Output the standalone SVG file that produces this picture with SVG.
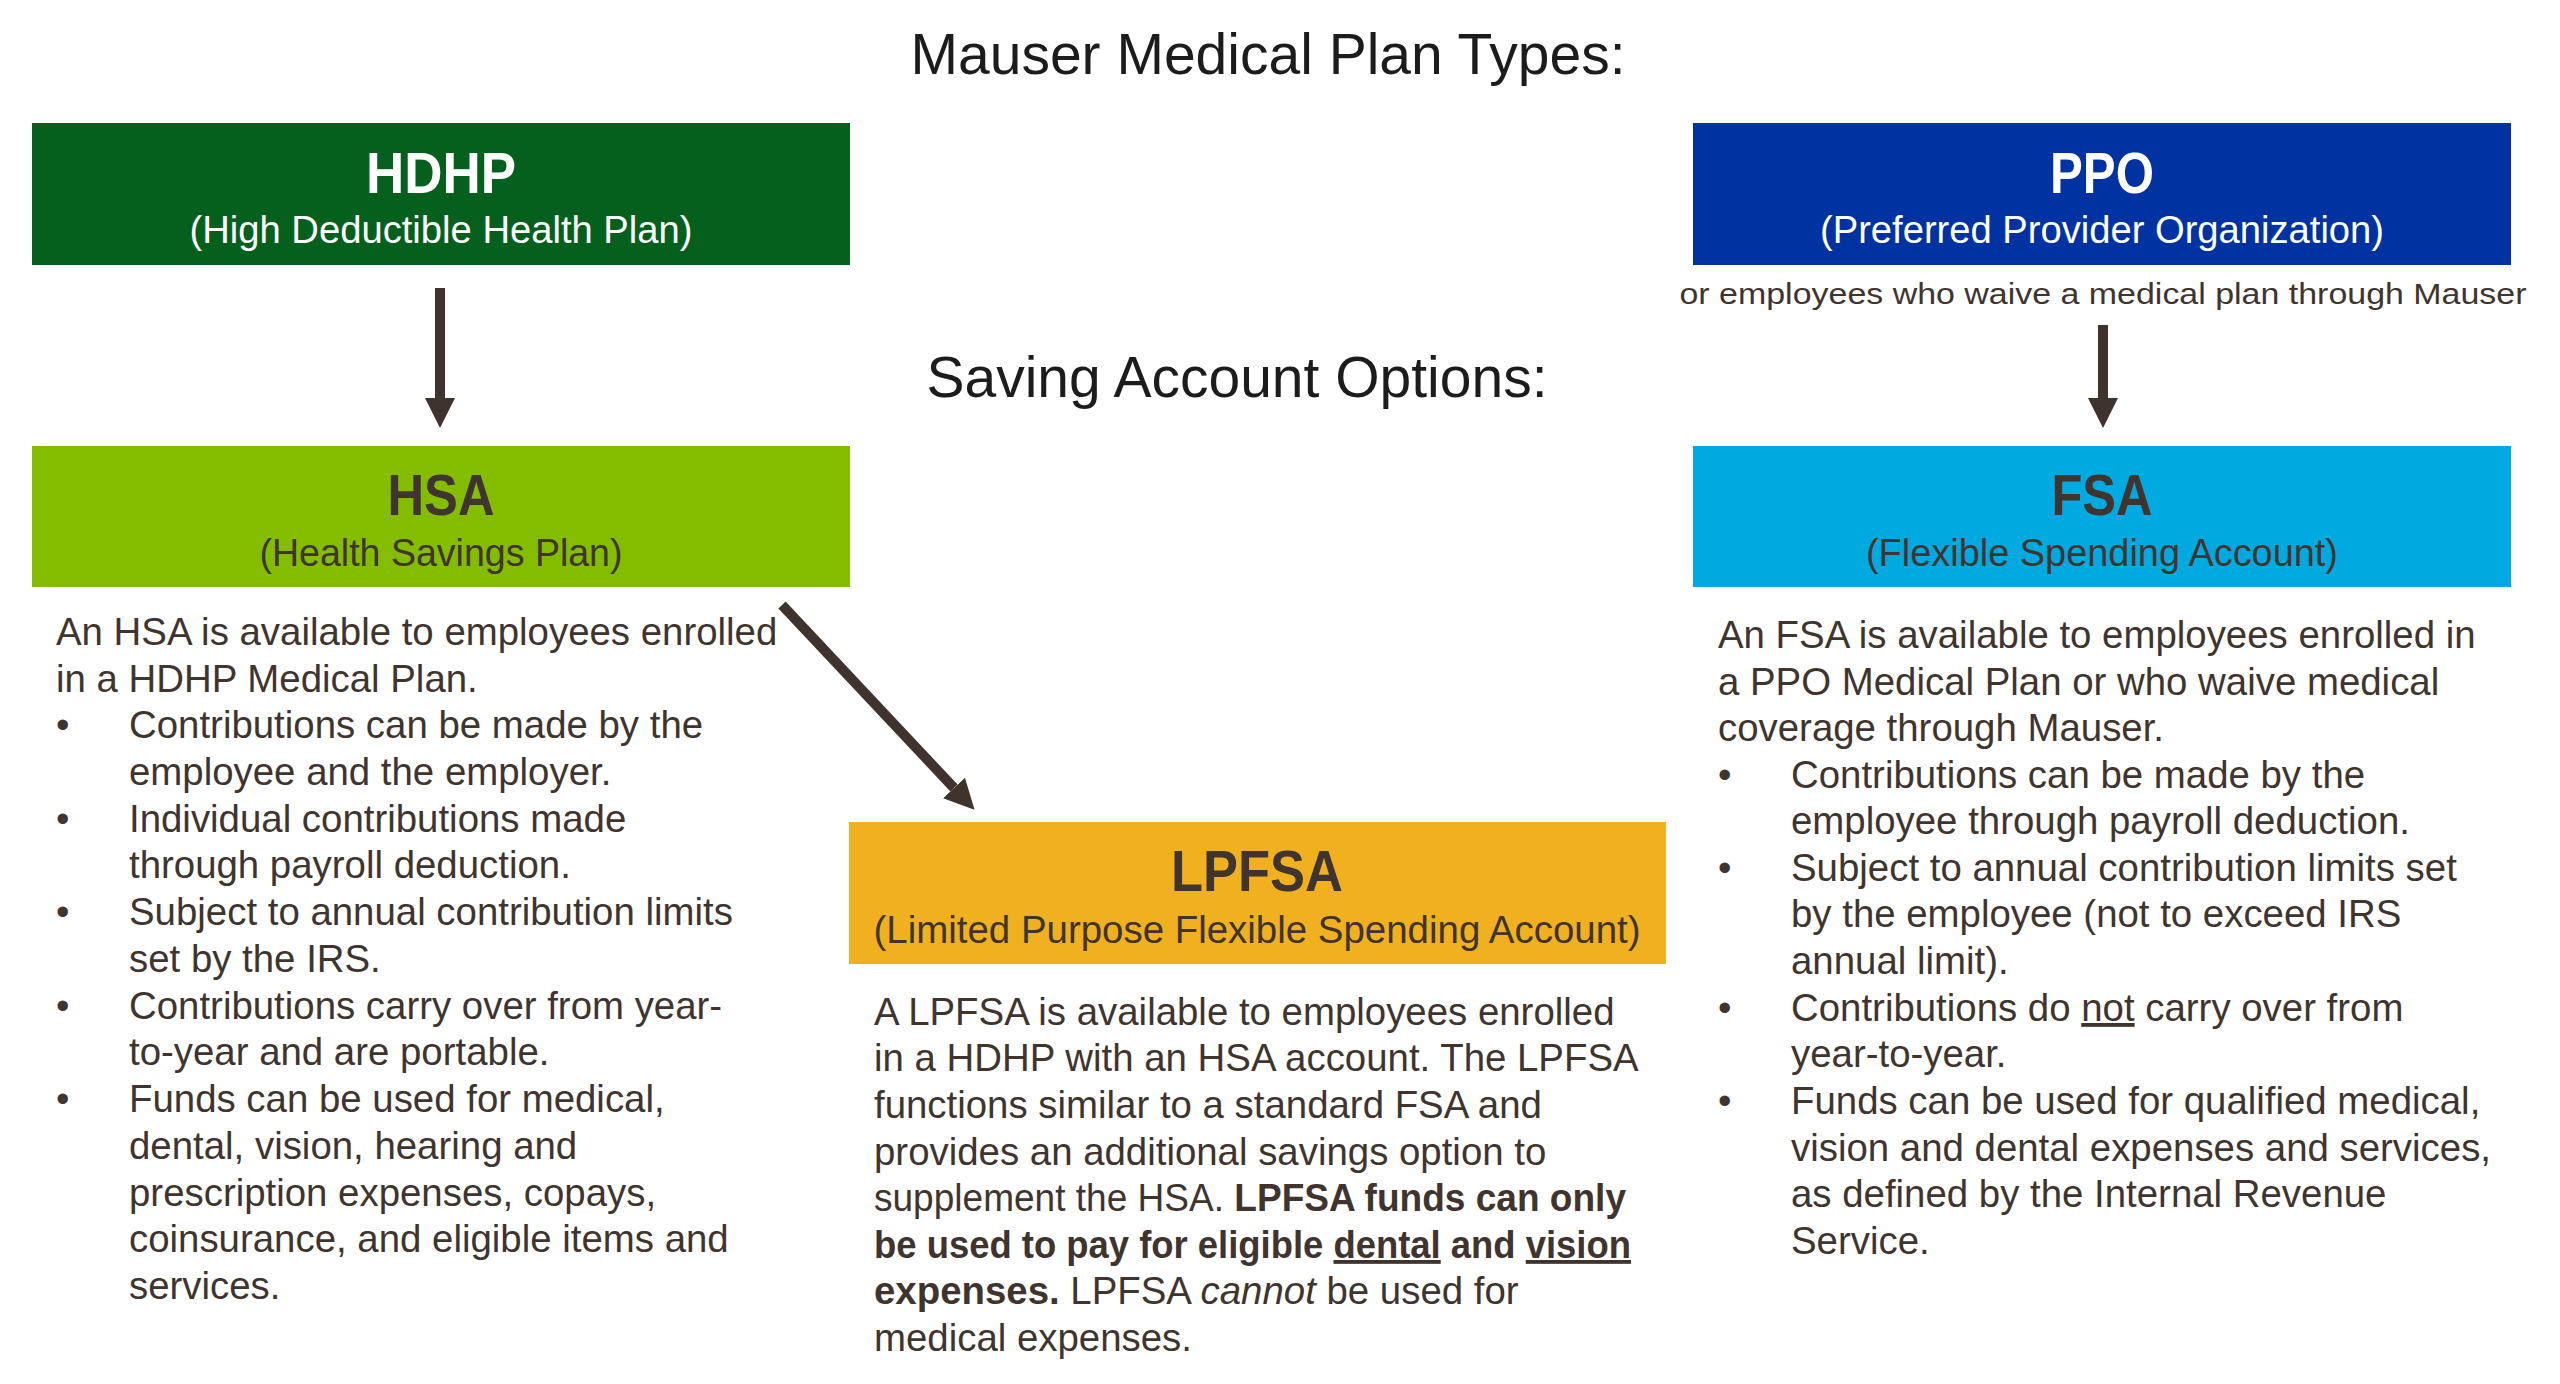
<svg xmlns="http://www.w3.org/2000/svg" width="2560" height="1384" viewBox="0 0 2560 1384">
<style>
.t{font-family:"Liberation Sans",Arial,sans-serif;}
.title{font-size:57px;fill:#1c1c1c;}
.hd{font-size:58px;font-weight:bold;}
.sub{font-size:38px;}
.body{font-size:38.4px;fill:#40342f;}
.w{fill:#ffffff;}
.d{fill:#40342f;}
.b{font-weight:bold;}
.u{text-decoration:underline;}
.conn{stroke:#3e332d;stroke-width:10;fill:none;}
</style>
<defs>
<marker id="ah" markerUnits="userSpaceOnUse" markerWidth="32" markerHeight="32" refX="0" refY="15" orient="auto">
<path d="M0,0 L30,15 L0,30 z" fill="#3e332d"/>
</marker>
</defs>
<rect width="2560" height="1384" fill="#ffffff"/>

<text class="t title" x="1268" y="74" text-anchor="middle">Mauser Medical Plan Types:</text>
<text class="t title" x="1237" y="397" text-anchor="middle">Saving Account Options:</text>

<g id="node-hdhp">
<rect x="32" y="123" width="818" height="142" fill="#05601e"/>
<text class="t hd w" x="441" y="193" text-anchor="middle" textLength="150" lengthAdjust="spacingAndGlyphs">HDHP</text>
<text class="t sub w" x="441" y="243" text-anchor="middle" textLength="503" lengthAdjust="spacingAndGlyphs">(High Deductible Health Plan)</text>
</g>

<g id="node-ppo">
<rect x="1693" y="123" width="818" height="142" fill="#0033a1"/>
<text class="t hd w" x="2102" y="193" text-anchor="middle" textLength="104" lengthAdjust="spacingAndGlyphs">PPO</text>
<text class="t sub w" x="2102" y="243" text-anchor="middle" textLength="564" lengthAdjust="spacingAndGlyphs">(Preferred Provider Organization)</text>
<text class="t d" x="2103" y="304" font-size="29" text-anchor="middle" textLength="847" lengthAdjust="spacingAndGlyphs">or employees who waive a medical plan through Mauser</text>
</g>

<g id="node-hsa">
<rect x="32" y="446" width="818" height="141" fill="#84bd00"/>
<text class="t hd d" x="441" y="515" text-anchor="middle" textLength="107" lengthAdjust="spacingAndGlyphs">HSA</text>
<text class="t sub d" x="441" y="566" text-anchor="middle" textLength="363" lengthAdjust="spacingAndGlyphs">(Health Savings Plan)</text>
<g class="t body">
<text x="56" y="645">An HSA is available to employees enrolled</text>
<text x="56" y="692">in a HDHP Medical Plan.</text>
<text x="56" y="738">•</text><text x="129" y="738">Contributions can be made by the</text>
<text x="129" y="785">employee and the employer.</text>
<text x="56" y="832">•</text><text x="129" y="832">Individual contributions made</text>
<text x="129" y="878">through payroll deduction.</text>
<text x="56" y="925">•</text><text x="129" y="925">Subject to annual contribution limits</text>
<text x="129" y="972">set by the IRS.</text>
<text x="56" y="1019">•</text><text x="129" y="1019">Contributions carry over from year-</text>
<text x="129" y="1065">to-year and are portable.</text>
<text x="56" y="1112">•</text><text x="129" y="1112">Funds can be used for medical,</text>
<text x="129" y="1159">dental, vision, hearing and</text>
<text x="129" y="1206">prescription expenses, copays,</text>
<text x="129" y="1252">coinsurance, and eligible items and</text>
<text x="129" y="1299">services.</text>
</g>
</g>

<g id="node-fsa">
<rect x="1693" y="446" width="818" height="141" fill="#00a9e0"/>
<text class="t hd d" x="2102" y="515" text-anchor="middle" textLength="101" lengthAdjust="spacingAndGlyphs">FSA</text>
<text class="t sub d" x="2102" y="566" text-anchor="middle" textLength="472" lengthAdjust="spacingAndGlyphs">(Flexible Spending Account)</text>
<g class="t body">
<text x="1718" y="648">An FSA is available to employees enrolled in</text>
<text x="1718" y="695">a PPO Medical Plan or who waive medical</text>
<text x="1718" y="741">coverage through Mauser.</text>
<text x="1718" y="788">•</text><text x="1791" y="788">Contributions can be made by the</text>
<text x="1791" y="834">employee through payroll deduction.</text>
<text x="1718" y="881">•</text><text x="1791" y="881">Subject to annual contribution limits set</text>
<text x="1791" y="927">by the employee (not to exceed IRS</text>
<text x="1791" y="974">annual limit).</text>
<text x="1718" y="1021">•</text><text x="1791" y="1021">Contributions do <tspan class="u">not</tspan> carry over from</text>
<text x="1791" y="1067">year-to-year.</text>
<text x="1718" y="1114">•</text><text x="1791" y="1114">Funds can be used for qualified medical,</text>
<text x="1791" y="1161">vision and dental expenses and services,</text>
<text x="1791" y="1207">as defined by the Internal Revenue</text>
<text x="1791" y="1254">Service.</text>
</g>
</g>

<g id="node-lpfsa">
<rect x="849" y="822" width="817" height="142" fill="#f0b01f"/>
<text class="t hd d" x="1257" y="891" text-anchor="middle" textLength="172" lengthAdjust="spacingAndGlyphs">LPFSA</text>
<text class="t sub d" x="1257" y="943" text-anchor="middle" textLength="767" lengthAdjust="spacingAndGlyphs">(Limited Purpose Flexible Spending Account)</text>
<g class="t body">
<text x="874" y="1025">A LPFSA is available to employees enrolled</text>
<text x="874" y="1071">in a HDHP with an HSA account. The LPFSA</text>
<text x="874" y="1118">functions similar to a standard FSA and</text>
<text x="874" y="1165">provides an additional savings option to</text>
<text x="874" y="1211" textLength="752" lengthAdjust="spacingAndGlyphs">supplement the HSA. <tspan class="b">LPFSA funds can only</tspan></text>
<text x="874" y="1258" class="b" textLength="757" lengthAdjust="spacingAndGlyphs">be used to pay for eligible <tspan class="u">dental</tspan> and <tspan class="u">vision</tspan></text>
<text x="874" y="1304"><tspan class="b">expenses.</tspan> LPFSA <tspan font-style="italic">cannot</tspan> be used for</text>
<text x="874" y="1351">medical expenses.</text>
</g>
</g>

<g id="connectors">
<line class="conn" x1="440" y1="288" x2="440" y2="398" marker-end="url(#ah)"/>
<line class="conn" x1="2103" y1="325" x2="2103" y2="398" marker-end="url(#ah)"/>
<line class="conn" x1="782" y1="605" x2="954" y2="788" marker-end="url(#ah)"/>
</g>
</svg>
